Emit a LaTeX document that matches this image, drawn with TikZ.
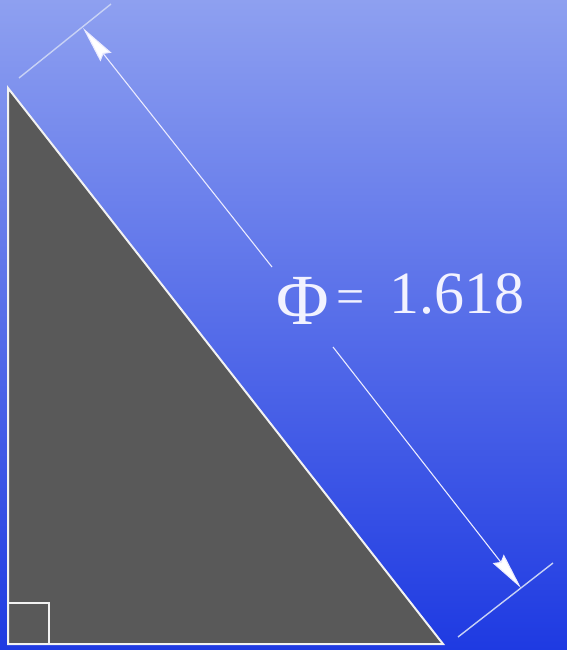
\documentclass[tikz,border=0pt]{standalone}
\usepackage{fontspec}
\setmainfont{Liberation Serif}
\usetikzlibrary{arrows.meta}
\definecolor{bgtop}{RGB}{142,160,240}
\definecolor{bgbot}{RGB}{30,58,226}
\definecolor{trifill}{RGB}{89,89,89}
\definecolor{extcol}{RGB}{200,210,245}
\tikzset{
  tri/.style={fill=trifill, draw=white!90!gray, line width=2pt, line join=miter},
  extline/.style={draw=extcol, line width=1.4pt},
  dimline/.style={draw=white!92!blue, line width=1.1pt, -{Stealth[length=37pt, width=14pt, inset=4pt, fill=white]}},
  lbl/.style={text=white!95!blue, font=\fontsize{60}{66}\selectfont, inner sep=0pt}
}
\begin{document}
\begin{tikzpicture}[x=1pt, y=-1pt]
\useasboundingbox (0,0) rectangle (567,650);
\shade[top color=bgtop, bottom color=bgbot] (0,0) rectangle (567,650);
% triangle
\coordinate (A) at (8,88);
\coordinate (B) at (8,644);
\coordinate (C) at (443,644);
\draw[tri] (A) -- (B) -- (C) -- cycle;
% right angle mark
\coordinate (R1) at (8,603);
\coordinate (R2) at (49,603);
\coordinate (R3) at (49,644);
\draw[draw=white!90!gray, line width=1.6pt] (R1) -- (R2) -- (R3);
% extension lines
\coordinate (e1a) at (19,78);
\coordinate (e1b) at (111,4);
\coordinate (e2a) at (458,637);
\coordinate (e2b) at (553,563);
\draw[extline] (e1a) -- (e1b);
\draw[extline] (e2a) -- (e2b);
% dimension line
\coordinate (tipA) at (83,28);
\coordinate (tipB) at (521,588);
\coordinate (g1) at (272,267);
\coordinate (g2) at (333,347);
\draw[dimline] (g1) -- (tipA);
\draw[dimline] (g2) -- (tipB);
% label
\node[lbl, anchor=base west] (phi) at (276,313)
  {\raisebox{-11pt}{\fontsize{72}{80}\selectfont Φ}\kern8pt{\fontsize{50}{60}\selectfont =}\kern24pt 1.618};
\end{tikzpicture}
\end{document}
